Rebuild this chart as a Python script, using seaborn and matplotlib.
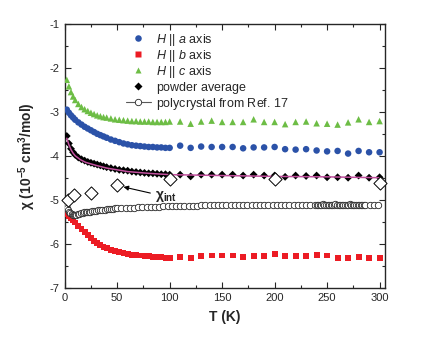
import numpy as np
import pandas as pd
import seaborn as sns
import matplotlib.pyplot as plt
from matplotlib.ticker import MultipleLocator
from matplotlib.lines import Line2D

# temperature grid of the single-crystal runs (K)
T_xtal = [2, 4, 6, 8, 10, 13, 16, 19, 22, 25, 28, 31, 34, 37, 40, 44, 48, 52, 56, 60,
          64, 68, 72, 76, 80, 84, 88, 92, 96, 100,
          110, 120, 130, 140, 150, 160, 170, 180, 190, 200,
          210, 220, 230, 240, 250, 260, 270, 280, 290, 300]

chi_a = [-2.95, -3.02, -3.08, -3.13, -3.18, -3.24, -3.29, -3.34, -3.38, -3.42,
         -3.46, -3.50, -3.53, -3.56, -3.59, -3.63, -3.66, -3.69, -3.72, -3.74,
         -3.76, -3.77, -3.78, -3.79, -3.80, -3.80, -3.81, -3.81, -3.82, -3.82,
         -3.77, -3.82, -3.79, -3.80, -3.80, -3.80, -3.83, -3.81, -3.81, -3.80,
         -3.85, -3.86, -3.85, -3.88, -3.90, -3.89, -3.95, -3.89, -3.92, -3.92]

chi_b = [-5.32, -5.37, -5.42, -5.47, -5.52, -5.59, -5.66, -5.73, -5.81, -5.88,
         -5.94, -5.99, -6.03, -6.07, -6.10, -6.14, -6.17, -6.19, -6.21, -6.23,
         -6.25, -6.26, -6.27, -6.28, -6.29, -6.30, -6.30, -6.31, -6.32, -6.32,
         -6.31, -6.33, -6.29, -6.27, -6.27, -6.27, -6.31, -6.29, -6.29, -6.23,
         -6.29, -6.28, -6.29, -6.26, -6.27, -6.32, -6.32, -6.30, -6.32, -6.33]

chi_c = [-2.27, -2.42, -2.55, -2.65, -2.73, -2.82, -2.89, -2.94, -2.98, -3.02,
         -3.05, -3.08, -3.10, -3.12, -3.13, -3.15, -3.17, -3.18, -3.19, -3.20,
         -3.21, -3.21, -3.22, -3.22, -3.22, -3.23, -3.23, -3.23, -3.23, -3.22,
         -3.22, -3.27, -3.22, -3.20, -3.23, -3.23, -3.23, -3.17, -3.23, -3.23,
         -3.28, -3.23, -3.22, -3.26, -3.27, -3.29, -3.24, -3.17, -3.23, -3.21]

chi_powder = [-3.55, -3.72, -3.84, -3.92, -3.98, -4.04, -4.08, -4.11, -4.14, -4.16,
              -4.18, -4.20, -4.22, -4.24, -4.26, -4.28, -4.30, -4.32, -4.33, -4.34,
              -4.36, -4.37, -4.38, -4.39, -4.40, -4.40, -4.41, -4.42, -4.42, -4.43,
              -4.43, -4.47, -4.43, -4.43, -4.43, -4.43, -4.45, -4.43, -4.45, -4.45,
              -4.48, -4.45, -4.46, -4.45, -4.49, -4.49, -4.50, -4.45, -4.50, -4.49]

# fit curve through the powder average
T_fit = [2, 4, 6, 8, 10, 15, 20, 30, 40, 50, 60, 80, 100, 150, 200, 250, 300]
chi_fit = [-3.60, -3.75, -3.86, -3.94, -4.00, -4.09, -4.15, -4.22, -4.28, -4.32,
           -4.36, -4.40, -4.43, -4.45, -4.47, -4.48, -4.50]

# polycrystal data (Ref. 17)
T_poly = [1.5, 2.5, 3.5, 4.5, 5.5, 6.5, 7.5, 8.5, 9.5, 11, 12.5, 14, 15.5, 17, 18.5,
          20, 21.5, 23, 24.5, 26, 28, 30, 32, 34, 36, 38, 40, 42, 44, 46, 48, 50,
          54, 58, 62, 66, 70, 74, 78, 82, 86, 90, 94, 98, 102, 106, 110, 114, 118,
          122, 126, 130, 134, 138, 142, 146, 150, 154, 158, 162, 166, 170, 174, 178,
          182, 186, 190, 194, 198, 202, 206, 210, 214, 218, 222, 226, 230, 234, 238,
          240, 241.5, 243, 244.5, 246, 247.5, 249, 250.5, 252, 253.5, 255, 256.5,
          258, 259.5, 261, 262.5, 264, 265.5, 267, 268.5, 270, 271.5, 273, 274.5,
          276, 277.5, 279, 280.5, 282, 283.5, 285, 286.5, 290.5, 294.5, 298.5]
chi_poly = [-5.10, -5.18, -5.24, -5.28, -5.31, -5.33, -5.34, -5.35, -5.35, -5.34,
            -5.33, -5.32, -5.31, -5.30, -5.29, -5.28, -5.28, -5.27, -5.27, -5.26,
            -5.26, -5.25, -5.24, -5.24, -5.23, -5.23, -5.22, -5.22, -5.21, -5.21,
            -5.20, -5.20,
            -5.19, -5.19, -5.18, -5.18, -5.17, -5.17, -5.17, -5.16, -5.16, -5.16,
            -5.15, -5.15, -5.15, -5.15, -5.14, -5.14, -5.14, -5.14, -5.14, -5.13,
            -5.13, -5.13, -5.13, -5.13, -5.13, -5.12, -5.12, -5.12, -5.12, -5.12,
            -5.12, -5.12, -5.12, -5.11, -5.11, -5.11, -5.11, -5.11, -5.12, -5.11,
            -5.11, -5.12, -5.11, -5.11, -5.12, -5.11, -5.11,
            -5.11, -5.12, -5.11, -5.11, -5.10, -5.11, -5.12, -5.11, -5.11, -5.12,
            -5.11, -5.11, -5.10, -5.11, -5.12, -5.11, -5.11, -5.11, -5.12, -5.11,
            -5.11, -5.10, -5.11, -5.11, -5.12, -5.11, -5.11, -5.11, -5.12, -5.11,
            -5.11, -5.11, -5.11, -5.12, -5.11]

# intrinsic susceptibility
T_int = [3, 9, 25, 50, 100, 200, 300]
chi_int = [-5.00, -4.89, -4.85, -4.66, -4.53, -4.53, -4.61]

blue = '#2b52a8'
red = '#ec1c24'
green = '#6dbd45'
magenta = '#c2509e'

sns.set_style('ticks')
plt.rcParams['font.family'] = ['Liberation Sans', 'DejaVu Sans']
plt.rcParams['axes.unicode_minus'] = False
plt.rcParams['mathtext.fontset'] = 'custom'
plt.rcParams['mathtext.rm'] = 'Liberation Sans'
plt.rcParams['mathtext.it'] = 'Liberation Sans:italic'
plt.rcParams['mathtext.bf'] = 'Liberation Sans:bold'

fig = plt.figure(figsize=(4.48, 3.46), dpi=100)
ax = fig.add_axes([0.1444, 0.169, 0.7146, 0.7616])

sns.scatterplot(x=T_xtal, y=chi_c, marker='^', s=22, color=green, edgecolor='none',
                ax=ax, zorder=3)
sns.scatterplot(x=T_xtal, y=chi_a, marker='o', s=22, color=blue, edgecolor='none',
                ax=ax, zorder=3)
sns.scatterplot(x=T_xtal, y=chi_b, marker='s', s=18, color=red, edgecolor='none',
                ax=ax, zorder=3)
sns.lineplot(x=T_poly, y=chi_poly, color='0.35', lw=0.8, marker='o', markersize=4.6,
             markerfacecolor='white', markeredgecolor='0.15', markeredgewidth=0.6,
             estimator=None, sort=False, ax=ax, zorder=4)
sns.scatterplot(x=T_xtal, y=chi_powder, marker='D', s=16, color='black',
                edgecolor='none', ax=ax, zorder=4)
sns.lineplot(x=T_fit, y=chi_fit, color=magenta, lw=1.1, estimator=None, ax=ax, zorder=5)
sns.scatterplot(x=T_int, y=chi_int, marker='D', s=45, color='white', edgecolor='black',
                linewidth=0.7, ax=ax, zorder=6, clip_on=False)

ax.annotate('χ$_{\\mathregular{int}}$', xy=(56, -4.71), xytext=(86, -4.93),
            fontsize=10, fontweight='bold', va='center', ha='left',
            arrowprops=dict(arrowstyle='-|>', color='black', lw=0.8,
                            mutation_scale=7, shrinkA=1, shrinkB=0))

ax.set_xlim(0, 305)
ax.set_ylim(-7, -1)
ax.xaxis.set_major_locator(MultipleLocator(50))
ax.xaxis.set_minor_locator(MultipleLocator(25))
ax.yaxis.set_major_locator(MultipleLocator(1))
ax.yaxis.set_minor_locator(MultipleLocator(0.5))
ax.tick_params(which='both', direction='in', top=True, right=True, labelsize=8,
               width=0.8)
ax.tick_params(which='major', length=4, pad=4)
ax.tick_params(which='minor', length=2)
for sp in ax.spines.values():
    sp.set_linewidth(1.0)

ax.set_xlabel('T (K)', fontsize=10, fontweight='bold', labelpad=5)
ax.set_ylabel('χ (10$^{\\mathbf{-5}}$ cm$^{\\mathbf{3}}$/mol)', fontsize=10,
              fontweight='bold', labelpad=8)

handles = [
    Line2D([], [], ls='none', marker='o', ms=4.7, color=blue, mec='none'),
    Line2D([], [], ls='none', marker='s', ms=4.3, color=red, mec='none'),
    Line2D([], [], ls='none', marker='^', ms=4.9, color=green, mec='none'),
    Line2D([], [], ls='none', marker='D', ms=4.0, color='black', mec='none'),
    Line2D([], [], color='0.35', lw=0.8, marker='o', ms=4.6, mfc='white',
           mec='0.15', mew=0.6),
]
labels = [r'$\mathit{H}$ || $\mathit{a}$ axis', r'$\mathit{H}$ || $\mathit{b}$ axis',
          r'$\mathit{H}$ || $\mathit{c}$ axis', r'$\mathregular{powder}$ average',
          r'$\mathregular{polycrystal}$ from Ref. 17']
ax.legend(handles, labels, loc='upper left', bbox_to_anchor=(0.175, 0.99),
          frameon=False, fontsize=9, handlelength=2.0, handletextpad=0.45,
          labelspacing=0.0, borderaxespad=0)

fig.savefig('out.png', dpi=100)
